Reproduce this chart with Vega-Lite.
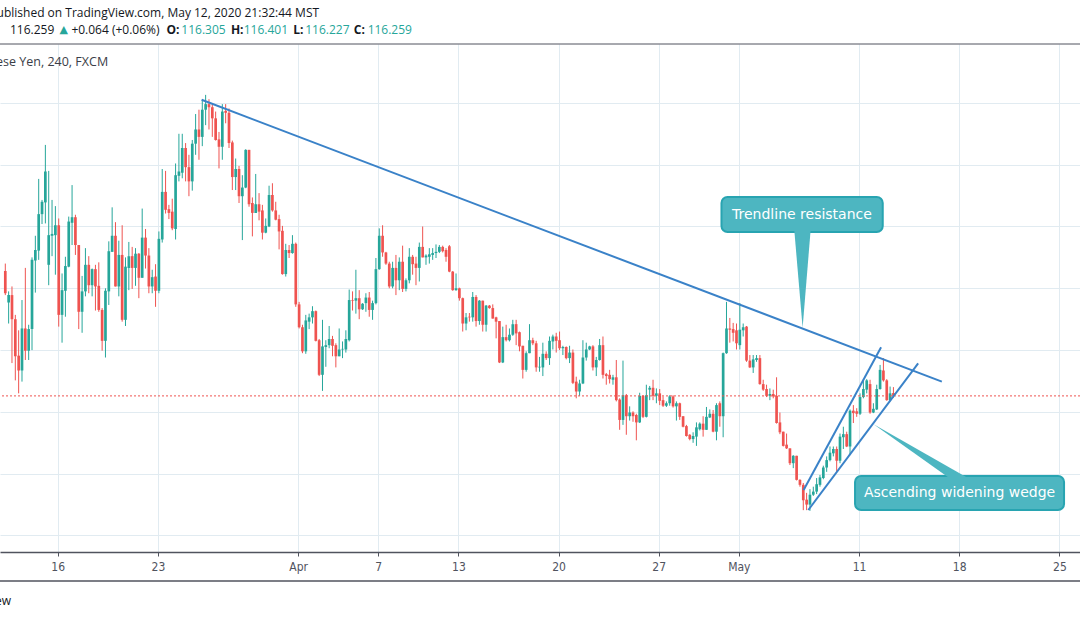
{
"$schema": "https://vega.github.io/schema/vega-lite/v6.json",
"width": 1080, "height": 508,
"autosize": {"type": "none"},
"padding": {"left": 0, "top": 44, "right": 0, "bottom": 66},
"background": "white",
"config": {"view": {"stroke": null}},
"datasets": {
"ohlc": [
{"i":0,"o":118.28,"h":118.40,"l":117.89,"c":117.92},
{"i":1,"o":117.77,"h":117.95,"l":117.43,"c":117.89},
{"i":2,"o":117.89,"h":118.03,"l":116.79,"c":117.50},
{"i":3,"o":117.50,"h":117.57,"l":116.51,"c":116.90},
{"i":4,"o":116.91,"h":117.32,"l":116.30,"c":116.67},
{"i":5,"o":116.67,"h":117.81,"l":116.49,"c":117.35},
{"i":6,"o":117.35,"h":118.33,"l":116.84,"c":116.99},
{"i":7,"o":116.99,"h":117.41,"l":116.84,"c":117.34},
{"i":8,"o":117.34,"h":118.50,"l":117.00,"c":118.46},
{"i":9,"o":118.45,"h":118.85,"l":117.93,"c":118.62},
{"i":10,"o":118.61,"h":119.77,"l":118.46,"c":119.20},
{"i":11,"o":119.20,"h":119.43,"l":119.04,"c":119.40},
{"i":12,"o":119.39,"h":120.32,"l":119.05,"c":119.89},
{"i":13,"o":118.38,"h":119.90,"l":118.05,"c":118.86},
{"i":14,"o":118.85,"h":119.43,"l":118.52,"c":118.88},
{"i":15,"o":118.86,"h":119.33,"l":118.22,"c":119.02},
{"i":16,"o":119.02,"h":119.13,"l":117.38,"c":117.57},
{"i":17,"o":117.57,"h":118.24,"l":117.12,"c":117.97},
{"i":18,"o":117.96,"h":118.51,"l":117.54,"c":118.36},
{"i":19,"o":118.35,"h":119.16,"l":118.34,"c":119.08},
{"i":20,"o":119.06,"h":119.67,"l":118.70,"c":119.15},
{"i":21,"o":119.15,"h":119.19,"l":118.54,"c":118.70},
{"i":22,"o":118.70,"h":118.70,"l":117.34,"c":117.62},
{"i":23,"o":117.62,"h":118.20,"l":117.28,"c":117.95},
{"i":24,"o":117.95,"h":118.65,"l":117.87,"c":118.38},
{"i":25,"o":118.38,"h":118.52,"l":117.92,"c":118.05},
{"i":26,"o":118.05,"h":118.32,"l":117.87,"c":118.31},
{"i":27,"o":118.31,"h":118.38,"l":117.64,"c":118.03},
{"i":28,"o":118.04,"h":118.42,"l":117.62,"c":117.65},
{"i":29,"o":117.65,"h":117.68,"l":116.99,"c":117.15},
{"i":30,"o":117.15,"h":118.00,"l":116.88,"c":117.96},
{"i":31,"o":117.95,"h":118.76,"l":117.73,"c":118.60},
{"i":32,"o":118.59,"h":119.31,"l":118.59,"c":118.85},
{"i":33,"o":118.85,"h":119.07,"l":118.03,"c":118.03},
{"i":34,"o":118.03,"h":118.77,"l":117.87,"c":118.54},
{"i":35,"o":118.54,"h":119.02,"l":117.46,"c":117.49},
{"i":36,"o":117.49,"h":118.50,"l":117.39,"c":118.35},
{"i":37,"o":118.33,"h":118.75,"l":117.97,"c":118.52},
{"i":38,"o":118.52,"h":118.67,"l":117.99,"c":118.33},
{"i":39,"o":118.33,"h":118.65,"l":118.04,"c":118.56},
{"i":40,"o":118.56,"h":118.57,"l":117.84,"c":118.17},
{"i":41,"o":118.17,"h":119.29,"l":118.17,"c":118.82},
{"i":42,"o":118.82,"h":118.96,"l":118.32,"c":118.53},
{"i":43,"o":118.53,"h":118.65,"l":117.92,"c":118.03},
{"i":44,"o":118.03,"h":118.30,"l":117.92,"c":118.18},
{"i":45,"o":118.19,"h":118.39,"l":117.70,"c":117.96},
{"i":46,"o":117.96,"h":118.92,"l":117.92,"c":118.80},
{"i":47,"o":118.79,"h":119.93,"l":118.74,"c":119.56},
{"i":48,"o":119.56,"h":119.90,"l":119.21,"c":119.27},
{"i":49,"o":119.28,"h":119.35,"l":119.12,"c":119.22},
{"i":50,"o":119.24,"h":119.45,"l":118.94,"c":118.97},
{"i":51,"o":118.96,"h":120.02,"l":118.79,"c":119.83},
{"i":52,"o":119.82,"h":120.50,"l":119.73,"c":119.89},
{"i":53,"o":119.87,"h":120.50,"l":119.78,"c":120.27},
{"i":54,"o":120.27,"h":120.35,"l":119.73,"c":119.96},
{"i":55,"o":119.96,"h":120.16,"l":119.49,"c":119.73},
{"i":56,"o":119.73,"h":120.40,"l":119.58,"c":120.34},
{"i":57,"o":120.34,"h":120.82,"l":120.16,"c":120.57},
{"i":58,"o":120.57,"h":120.89,"l":120.08,"c":120.45},
{"i":59,"o":120.45,"h":121.05,"l":120.30,"c":120.89},
{"i":60,"o":120.89,"h":121.13,"l":120.64,"c":120.98},
{"i":61,"o":120.98,"h":121.06,"l":120.57,"c":120.93},
{"i":62,"o":120.93,"h":120.98,"l":120.45,"c":120.75},
{"i":63,"o":120.75,"h":120.86,"l":120.39,"c":120.40},
{"i":64,"o":120.41,"h":120.53,"l":119.94,"c":120.29},
{"i":65,"o":120.29,"h":120.98,"l":120.08,"c":120.86},
{"i":66,"o":120.87,"h":120.98,"l":120.67,"c":120.84},
{"i":67,"o":120.84,"h":120.91,"l":120.27,"c":120.35},
{"i":68,"o":120.36,"h":120.39,"l":119.59,"c":119.80},
{"i":69,"o":119.80,"h":120.10,"l":119.59,"c":119.93},
{"i":70,"o":119.93,"h":119.98,"l":119.38,"c":119.49},
{"i":71,"o":119.49,"h":119.83,"l":118.78,"c":119.63},
{"i":72,"o":119.63,"h":120.25,"l":119.62,"c":120.24},
{"i":73,"o":120.24,"h":120.24,"l":119.32,"c":119.36},
{"i":74,"o":119.38,"h":119.47,"l":118.84,"c":119.22},
{"i":75,"o":119.22,"h":119.85,"l":119.22,"c":119.36},
{"i":76,"o":119.36,"h":119.54,"l":119.10,"c":119.24},
{"i":77,"o":119.26,"h":119.35,"l":118.79,"c":118.90},
{"i":78,"o":118.90,"h":119.13,"l":118.89,"c":119.01},
{"i":79,"o":119.00,"h":119.66,"l":118.99,"c":119.51},
{"i":80,"o":119.51,"h":119.70,"l":119.24,"c":119.26},
{"i":81,"o":119.26,"h":119.40,"l":119.10,"c":119.11},
{"i":82,"o":119.12,"h":119.19,"l":118.63,"c":118.92},
{"i":83,"o":118.93,"h":119.01,"l":118.22,"c":118.23},
{"i":84,"o":118.23,"h":118.72,"l":118.19,"c":118.62},
{"i":85,"o":118.62,"h":118.70,"l":118.49,"c":118.57},
{"i":86,"o":118.57,"h":118.86,"l":118.56,"c":118.72},
{"i":87,"o":118.72,"h":118.74,"l":117.70,"c":117.74},
{"i":88,"o":117.74,"h":117.78,"l":117.35,"c":117.37},
{"i":89,"o":117.37,"h":117.41,"l":116.95,"c":116.98},
{"i":90,"o":116.98,"h":117.57,"l":116.94,"c":117.48},
{"i":91,"o":117.46,"h":117.59,"l":117.34,"c":117.53},
{"i":92,"o":117.53,"h":117.71,"l":117.43,"c":117.63},
{"i":93,"o":117.63,"h":117.64,"l":117.14,"c":117.15},
{"i":94,"o":117.16,"h":117.18,"l":116.58,"c":116.60},
{"i":95,"o":116.60,"h":117.49,"l":116.34,"c":117.06},
{"i":96,"o":117.05,"h":117.16,"l":116.73,"c":117.08},
{"i":97,"o":117.08,"h":117.39,"l":117.03,"c":117.18},
{"i":98,"o":117.18,"h":117.23,"l":116.90,"c":117.07},
{"i":99,"o":117.08,"h":117.11,"l":116.72,"c":116.90},
{"i":100,"o":116.90,"h":117.35,"l":116.90,"c":117.01},
{"i":101,"o":117.01,"h":117.14,"l":116.87,"c":117.02},
{"i":102,"o":117.01,"h":117.32,"l":116.96,"c":117.18},
{"i":103,"o":117.16,"h":117.98,"l":117.14,"c":117.81},
{"i":104,"o":117.81,"h":117.95,"l":117.64,"c":117.80},
{"i":105,"o":117.80,"h":118.30,"l":117.59,"c":117.84},
{"i":106,"o":117.84,"h":117.97,"l":117.50,"c":117.66},
{"i":107,"o":117.66,"h":117.76,"l":117.65,"c":117.75},
{"i":108,"o":117.76,"h":117.92,"l":117.62,"c":117.85},
{"i":109,"o":117.85,"h":117.94,"l":117.54,"c":117.65},
{"i":110,"o":117.65,"h":117.80,"l":117.49,"c":117.76},
{"i":111,"o":117.76,"h":118.49,"l":117.74,"c":118.31},
{"i":112,"o":118.31,"h":118.97,"l":118.30,"c":118.85},
{"i":113,"o":118.85,"h":119.02,"l":118.51,"c":118.58},
{"i":114,"o":118.58,"h":118.59,"l":118.38,"c":118.40},
{"i":115,"o":118.40,"h":118.43,"l":118.00,"c":118.03},
{"i":116,"o":118.03,"h":118.43,"l":118.00,"c":118.33},
{"i":117,"o":118.33,"h":118.54,"l":117.89,"c":118.13},
{"i":118,"o":118.13,"h":118.50,"l":117.97,"c":118.43},
{"i":119,"o":118.43,"h":118.69,"l":117.94,"c":117.99},
{"i":120,"o":117.99,"h":118.16,"l":117.95,"c":118.13},
{"i":121,"o":118.13,"h":118.65,"l":118.08,"c":118.51},
{"i":122,"o":118.51,"h":118.54,"l":118.22,"c":118.39},
{"i":123,"o":118.40,"h":118.51,"l":118.05,"c":118.33},
{"i":124,"o":118.33,"h":118.74,"l":118.11,"c":118.67},
{"i":125,"o":118.67,"h":119.00,"l":118.50,"c":118.50},
{"i":126,"o":118.50,"h":118.55,"l":118.38,"c":118.53},
{"i":127,"o":118.51,"h":118.65,"l":118.40,"c":118.55},
{"i":128,"o":118.54,"h":118.65,"l":118.46,"c":118.57},
{"i":129,"o":118.57,"h":118.71,"l":118.49,"c":118.59},
{"i":130,"o":118.59,"h":118.70,"l":118.57,"c":118.67},
{"i":131,"o":118.67,"h":118.69,"l":118.58,"c":118.60},
{"i":132,"o":118.62,"h":118.65,"l":118.43,"c":118.51},
{"i":133,"o":118.68,"h":118.70,"l":118.26,"c":118.27},
{"i":134,"o":118.27,"h":118.28,"l":117.96,"c":117.97},
{"i":135,"o":117.97,"h":118.24,"l":117.96,"c":118.00},
{"i":136,"o":118.00,"h":118.01,"l":117.80,"c":117.84},
{"i":137,"o":117.84,"h":117.85,"l":117.30,"c":117.43},
{"i":138,"o":117.43,"h":117.60,"l":117.32,"c":117.53},
{"i":139,"o":117.54,"h":117.60,"l":117.46,"c":117.53},
{"i":140,"o":117.53,"h":117.94,"l":117.46,"c":117.86},
{"i":141,"o":117.86,"h":117.89,"l":117.38,"c":117.47},
{"i":142,"o":117.47,"h":117.81,"l":117.41,"c":117.80},
{"i":143,"o":117.80,"h":117.80,"l":117.30,"c":117.41},
{"i":144,"o":117.41,"h":117.73,"l":117.30,"c":117.72},
{"i":145,"o":117.72,"h":117.73,"l":117.67,"c":117.68},
{"i":146,"o":117.68,"h":117.74,"l":117.51,"c":117.51},
{"i":147,"o":117.53,"h":117.54,"l":117.19,"c":117.46},
{"i":148,"o":117.47,"h":117.47,"l":116.79,"c":116.80},
{"i":149,"o":116.80,"h":117.38,"l":116.79,"c":117.21},
{"i":150,"o":117.21,"h":117.41,"l":117.14,"c":117.16},
{"i":151,"o":117.16,"h":117.35,"l":117.14,"c":117.25},
{"i":152,"o":117.25,"h":117.49,"l":117.23,"c":117.42},
{"i":153,"o":117.42,"h":117.49,"l":117.08,"c":117.27},
{"i":154,"o":117.29,"h":117.30,"l":116.98,"c":117.06},
{"i":155,"o":117.07,"h":117.07,"l":116.54,"c":116.68},
{"i":156,"o":116.68,"h":116.98,"l":116.65,"c":116.95},
{"i":157,"o":116.95,"h":117.42,"l":116.95,"c":117.16},
{"i":158,"o":117.16,"h":117.20,"l":117.08,"c":117.11},
{"i":159,"o":117.11,"h":117.15,"l":116.65,"c":116.72},
{"i":160,"o":116.72,"h":116.89,"l":116.65,"c":116.73},
{"i":161,"o":116.72,"h":117.12,"l":116.58,"c":116.94},
{"i":162,"o":116.94,"h":116.98,"l":116.84,"c":116.87},
{"i":163,"o":116.87,"h":117.22,"l":116.76,"c":117.15},
{"i":164,"o":117.14,"h":117.25,"l":117.01,"c":117.22},
{"i":165,"o":117.22,"h":117.28,"l":116.96,"c":117.15},
{"i":166,"o":117.16,"h":117.30,"l":117.00,"c":117.03},
{"i":167,"o":117.03,"h":117.07,"l":116.92,"c":117.05},
{"i":168,"o":117.05,"h":117.06,"l":116.85,"c":116.87},
{"i":169,"o":116.87,"h":117.07,"l":116.79,"c":116.96},
{"i":170,"o":116.96,"h":117.01,"l":116.45,"c":116.47},
{"i":171,"o":116.49,"h":116.57,"l":116.22,"c":116.33},
{"i":172,"o":116.33,"h":116.52,"l":116.26,"c":116.46},
{"i":173,"o":116.46,"h":117.16,"l":116.45,"c":116.88},
{"i":174,"o":116.88,"h":117.12,"l":116.83,"c":117.01},
{"i":175,"o":117.01,"h":117.07,"l":117.00,"c":117.06},
{"i":176,"o":117.06,"h":117.08,"l":116.67,"c":116.72},
{"i":177,"o":116.72,"h":116.89,"l":116.58,"c":116.84},
{"i":178,"o":116.84,"h":117.18,"l":116.83,"c":117.08},
{"i":179,"o":117.08,"h":117.22,"l":116.54,"c":116.60},
{"i":180,"o":116.61,"h":116.63,"l":116.44,"c":116.58},
{"i":181,"o":116.60,"h":116.68,"l":116.46,"c":116.53},
{"i":182,"o":116.52,"h":116.60,"l":116.44,"c":116.56},
{"i":183,"o":116.56,"h":116.84,"l":116.17,"c":116.19},
{"i":184,"o":116.20,"h":116.22,"l":115.71,"c":115.87},
{"i":185,"o":115.87,"h":116.83,"l":115.79,"c":116.27},
{"i":186,"o":116.27,"h":116.29,"l":115.63,"c":115.93},
{"i":187,"o":115.93,"h":116.09,"l":115.86,"c":115.99},
{"i":188,"o":115.99,"h":116.01,"l":115.84,"c":115.93},
{"i":189,"o":115.95,"h":115.97,"l":115.54,"c":115.83},
{"i":190,"o":115.83,"h":116.31,"l":115.82,"c":116.26},
{"i":191,"o":116.26,"h":116.27,"l":115.90,"c":115.92},
{"i":192,"o":115.92,"h":116.44,"l":115.91,"c":116.27},
{"i":193,"o":116.36,"h":116.42,"l":116.19,"c":116.39},
{"i":194,"o":116.39,"h":116.52,"l":116.19,"c":116.26},
{"i":195,"o":116.26,"h":116.38,"l":116.14,"c":116.30},
{"i":196,"o":116.30,"h":116.37,"l":116.11,"c":116.18},
{"i":197,"o":116.19,"h":116.25,"l":116.08,"c":116.10},
{"i":198,"o":116.10,"h":116.17,"l":116.08,"c":116.14},
{"i":199,"o":116.14,"h":116.27,"l":116.10,"c":116.25},
{"i":200,"o":116.25,"h":116.27,"l":116.07,"c":116.09},
{"i":201,"o":116.09,"h":116.17,"l":115.86,"c":116.14},
{"i":202,"o":116.14,"h":116.15,"l":115.87,"c":115.92},
{"i":203,"o":115.93,"h":115.93,"l":115.75,"c":115.76},
{"i":204,"o":115.77,"h":115.79,"l":115.60,"c":115.61},
{"i":205,"o":115.63,"h":115.64,"l":115.54,"c":115.56},
{"i":206,"o":115.56,"h":115.67,"l":115.50,"c":115.61},
{"i":207,"o":115.60,"h":115.83,"l":115.45,"c":115.75},
{"i":208,"o":115.72,"h":115.83,"l":115.70,"c":115.81},
{"i":209,"o":115.81,"h":115.93,"l":115.60,"c":115.71},
{"i":210,"o":115.71,"h":116.08,"l":115.71,"c":115.92},
{"i":211,"o":115.91,"h":116.04,"l":115.90,"c":115.97},
{"i":212,"o":115.97,"h":116.03,"l":115.67,"c":115.68},
{"i":213,"o":115.68,"h":116.14,"l":115.54,"c":116.11},
{"i":214,"o":116.14,"h":116.17,"l":115.76,"c":115.93},
{"i":215,"o":115.93,"h":116.96,"l":115.59,"c":116.95},
{"i":216,"o":116.95,"h":117.78,"l":116.94,"c":117.35},
{"i":217,"o":117.35,"h":117.52,"l":117.12,"c":117.33},
{"i":218,"o":117.34,"h":117.44,"l":117.14,"c":117.28},
{"i":219,"o":117.32,"h":117.43,"l":117.01,"c":117.11},
{"i":220,"o":117.08,"h":117.76,"l":117.01,"c":117.33},
{"i":221,"o":117.32,"h":117.43,"l":117.22,"c":117.37},
{"i":222,"o":117.38,"h":117.39,"l":116.81,"c":116.83},
{"i":223,"o":116.83,"h":116.92,"l":116.71,"c":116.72},
{"i":224,"o":116.72,"h":116.92,"l":116.63,"c":116.85},
{"i":225,"o":116.84,"h":116.92,"l":116.81,"c":116.87},
{"i":226,"o":116.87,"h":116.92,"l":116.44,"c":116.45},
{"i":227,"o":116.45,"h":116.52,"l":116.34,"c":116.36},
{"i":228,"o":116.37,"h":116.44,"l":116.24,"c":116.26},
{"i":229,"o":116.26,"h":116.38,"l":116.19,"c":116.29},
{"i":230,"o":116.29,"h":116.36,"l":116.22,"c":116.25},
{"i":231,"o":116.26,"h":116.56,"l":115.81,"c":115.82},
{"i":232,"o":115.83,"h":115.99,"l":115.64,"c":115.67},
{"i":233,"o":115.68,"h":115.68,"l":115.44,"c":115.45},
{"i":234,"o":115.47,"h":115.65,"l":115.40,"c":115.41},
{"i":235,"o":115.41,"h":115.41,"l":115.14,"c":115.17},
{"i":236,"o":115.17,"h":115.30,"l":115.09,"c":115.29},
{"i":237,"o":115.29,"h":115.29,"l":114.89,"c":114.90},
{"i":238,"o":114.90,"h":114.91,"l":114.79,"c":114.82},
{"i":239,"o":114.82,"h":114.85,"l":114.41,"c":114.57},
{"i":240,"o":114.58,"h":114.69,"l":114.41,"c":114.50},
{"i":241,"o":114.50,"h":114.75,"l":114.40,"c":114.66},
{"i":242,"o":114.66,"h":114.79,"l":114.64,"c":114.71},
{"i":243,"o":114.71,"h":114.93,"l":114.67,"c":114.83},
{"i":244,"o":114.82,"h":114.98,"l":114.79,"c":114.94},
{"i":245,"o":114.93,"h":115.13,"l":114.91,"c":115.10},
{"i":246,"o":115.10,"h":115.28,"l":115.03,"c":115.22},
{"i":247,"o":115.22,"h":115.44,"l":115.20,"c":115.34},
{"i":248,"o":115.33,"h":115.44,"l":115.28,"c":115.40},
{"i":249,"o":115.40,"h":115.44,"l":115.03,"c":115.21},
{"i":250,"o":115.21,"h":115.65,"l":115.17,"c":115.60},
{"i":251,"o":115.59,"h":115.76,"l":115.40,"c":115.64},
{"i":252,"o":115.64,"h":115.68,"l":115.43,"c":115.44},
{"i":253,"o":115.44,"h":116.04,"l":115.30,"c":116.02},
{"i":254,"o":116.02,"h":116.11,"l":115.82,"c":115.98},
{"i":255,"o":116.01,"h":116.06,"l":115.92,"c":115.97},
{"i":256,"o":115.97,"h":116.30,"l":115.95,"c":116.24},
{"i":257,"o":116.24,"h":116.52,"l":116.22,"c":116.37},
{"i":258,"o":116.36,"h":116.53,"l":116.30,"c":116.51},
{"i":259,"o":116.45,"h":116.52,"l":115.97,"c":115.99},
{"i":260,"o":115.99,"h":116.14,"l":115.98,"c":116.05},
{"i":261,"o":116.04,"h":116.44,"l":116.03,"c":116.37},
{"i":262,"o":116.37,"h":116.76,"l":116.36,"c":116.68},
{"i":263,"o":116.67,"h":116.87,"l":116.49,"c":116.51},
{"i":264,"o":116.51,"h":116.53,"l":116.18,"c":116.19},
{"i":265,"o":116.19,"h":116.41,"l":116.17,"c":116.30},
{"i":266,"o":116.305,"h":116.401,"l":116.227,"c":116.259}
],
"lines": [
{"g":"res","x":58.8,"y":121.05},{"g":"res","x":280.5,"y":116.49},
{"g":"up","x":239.1,"y":114.736},{"g":"up","x":262.3,"y":117.045},
{"g":"lo","x":240.5,"y":114.413},{"g":"lo","x":273.4,"y":116.786}
],
"ptr": [
{"g":"a","ya":118.943,"xa":236.3,"xb":241.2},{"g":"a","ya":117.362,"xa":238.8,"xb":238.8},
{"g":"b","ya":115.799,"xa":260.06,"xb":260.06},{"g":"b","ya":114.931,"xa":282.7,"xb":288.3}
]
},
"layer": [
{"data": {"name": "ohlc"},
 "mark": {"type": "rule", "strokeWidth": 1},
 "encoding": {
  "x": {"field": "i", "type": "quantitative",
        "scale": {"domain": [-0.09, 320.38], "nice": false, "zero": false},
        "axis": {"title": null, "values": [15.7,45.7,87.7,111.7,135.7,165.7,195.7,219.7,255.7,285.7,315.7],
                 "labelExpr": "datum.value < 20 ? '16' : datum.value < 50 ? '23' : datum.value < 90 ? 'Apr' : datum.value < 115 ? '7' : datum.value < 140 ? '13' : datum.value < 170 ? '20' : datum.value < 200 ? '27' : datum.value < 225 ? 'May' : datum.value < 260 ? '11' : datum.value < 290 ? '18' : '25'",
                 "grid": true, "gridColor": "#e1ebf1", "gridWidth": 1,
                 "domainColor": "#50535e", "domainWidth": 1.5,
                 "tickColor": "#50535e", "tickSize": 4, "tickWidth": 1,
                 "labelColor": "#50535e", "labelFont": "DejaVu Sans Condensed, Liberation Sans Narrow, Roboto", "labelFontSize": 12,
                 "labelPadding": 5, "labelFlush": false, "labelOverlap": false}},
  "y": {"field": "l", "type": "quantitative",
        "scale": {"domain": [113.733, 121.953], "nice": false, "zero": false},
        "axis": {"title": null, "orient": "right", "labels": false, "ticks": false, "domain": false,
                 "grid": true, "gridColor": "#e1ebf1", "gridWidth": 1,
                 "values": [114,114.5,115,115.5,116,116.5,117,117.5,118,118.5,119,119.5,120,120.5,121,121.5]}},
  "y2": {"field": "h"},
  "color": {"condition": {"test": "datum.c >= datum.o", "value": "#26a69a"}, "value": "#ef5350"}
 }},
{"data": {"name": "ohlc"},
 "mark": {"type": "bar", "size": 2.7},
 "encoding": {
  "x": {"field": "i", "type": "quantitative"},
  "y": {"field": "o", "type": "quantitative"},
  "y2": {"field": "c"},
  "color": {"condition": {"test": "datum.c >= datum.o", "value": "#26a69a"}, "value": "#ef5350"}
 }},
{"data": {"values": [{}]},
 "mark": {"type": "rule", "color": "#ef5350", "strokeDash": [2, 2], "strokeWidth": 1},
 "encoding": {"y": {"datum": 116.259, "type": "quantitative"}}},
{"data": {"name": "lines"},
 "mark": {"type": "line", "color": "#3a82c8", "strokeWidth": 2},
 "encoding": {
  "x": {"field": "x", "type": "quantitative"},
  "y": {"field": "y", "type": "quantitative"},
  "detail": {"field": "g"}
 }},
{"data": {"values": [{}]},
 "mark": {"type": "rect", "fill": "#4db6c1", "stroke": "#28a4b1", "strokeWidth": 2, "cornerRadius": 6},
 "encoding": {"x": {"datum": 214.5, "type": "quantitative"}, "x2": {"datum": 262.8},
              "y": {"datum": 119.477, "type": "quantitative"}, "y2": {"datum": 118.911}}},
{"data": {"values": [{}]},
 "mark": {"type": "rect", "fill": "#4db6c1", "stroke": "#28a4b1", "strokeWidth": 2, "cornerRadius": 6},
 "encoding": {"x": {"datum": 254.5, "type": "quantitative"}, "x2": {"datum": 317.1},
              "y": {"datum": 114.963, "type": "quantitative"}, "y2": {"datum": 114.413}}},
{"data": {"name": "ptr"},
 "mark": {"type": "area", "orient": "horizontal", "color": "#4db6c1", "opacity": 1},
 "encoding": {
  "y": {"field": "ya", "type": "quantitative"},
  "x": {"field": "xa", "type": "quantitative"},
  "x2": {"field": "xb"},
  "detail": {"field": "g"}
 }},
{"data": {"values": [{}]},
 "mark": {"type": "text", "text": "Trendline resistance", "color": "white", "font": "DejaVu Sans", "fontSize": 14, "align": "center", "baseline": "middle"},
 "encoding": {"x": {"datum": 238.6, "type": "quantitative"}, "y": {"datum": 119.194, "type": "quantitative"}}},
{"data": {"values": [{}]},
 "mark": {"type": "text", "text": "Ascending widening wedge", "color": "white", "font": "DejaVu Sans", "fontSize": 14, "align": "center", "baseline": "middle"},
 "encoding": {"x": {"datum": 285.8, "type": "quantitative"}, "y": {"datum": 114.688, "type": "quantitative"}}},
{"data": {"values": [{}]},
 "mark": {"type": "rule", "color": "#50535e", "strokeWidth": 1},
 "encoding": {"y": {"datum": 121.953, "type": "quantitative"}}},
{"data": {"values": [{}]},
 "mark": {"type": "rule", "color": "#50535e", "strokeWidth": 1.5},
 "encoding": {"y": {"datum": 113.264, "type": "quantitative"}}},
{"data": {"values": [{}]},
 "mark": {"type": "text", "text": "Published on TradingView.com, May 12, 2020 21:32:44 MST", "color": "#131722", "font": "Open Sans", "fontSize": 12, "align": "right", "baseline": "middle"},
 "encoding": {"x": {"datum": 93.98, "type": "quantitative"}, "y": {"datum": 122.455, "type": "quantitative"}}},
{"data": {"values": [{}]},
 "mark": {"type": "text", "text": "Euro / Japanese Yen, 240, FXCM", "color": "#3b3e48", "font": "Open Sans", "fontSize": 12.5, "align": "right", "baseline": "middle"},
 "encoding": {"x": {"datum": 30.8, "type": "quantitative"}, "y": {"datum": 121.66, "type": "quantitative"}}},
{"data": {"values": [{}]},
 "mark": {"type": "text", "text": "TradingView", "color": "#131722", "font": "Open Sans", "fontSize": 12, "align": "right", "baseline": "middle"},
 "encoding": {"x": {"datum": 1.7, "type": "quantitative"}, "y": {"datum": 112.94, "type": "quantitative"}}},
{"data": {"values": [{}]},
 "mark": {"type": "text", "text": "116.259", "color": "#131722", "font": "Open Sans", "fontSize": 12, "align": "left", "baseline": "middle"},
 "encoding": {"x": {"datum": 1.39, "type": "quantitative"}, "y": {"datum": 122.18, "type": "quantitative"}}},
{"data": {"values": [{}]},
 "mark": {"type": "text", "text": "▲", "color": "#26a69a", "font": "DejaVu Sans", "fontSize": 11, "align": "left", "baseline": "middle"},
 "encoding": {"x": {"datum": 16.23, "type": "quantitative"}, "y": {"datum": 122.18, "type": "quantitative"}}},
{"data": {"values": [{}]},
 "mark": {"type": "text", "text": "+0.064 (+0.06%)", "color": "#131722", "font": "Open Sans", "fontSize": 12, "align": "left", "baseline": "middle"},
 "encoding": {"x": {"datum": 19.79, "type": "quantitative"}, "y": {"datum": 122.18, "type": "quantitative"}}},
{"data": {"values": [{}]},
 "mark": {"type": "text", "text": "O:", "color": "#131722", "font": "Open Sans", "fontSize": 12, "fontWeight": "bold", "align": "left", "baseline": "middle"},
 "encoding": {"x": {"datum": 48.28, "type": "quantitative"}, "y": {"datum": 122.18, "type": "quantitative"}}},
{"data": {"values": [{}]},
 "mark": {"type": "text", "text": "116.305", "color": "#26a69a", "font": "Open Sans", "fontSize": 12, "align": "left", "baseline": "middle"},
 "encoding": {"x": {"datum": 52.73, "type": "quantitative"}, "y": {"datum": 122.18, "type": "quantitative"}}},
{"data": {"values": [{}]},
 "mark": {"type": "text", "text": "H:", "color": "#131722", "font": "Open Sans", "fontSize": 12, "fontWeight": "bold", "align": "left", "baseline": "middle"},
 "encoding": {"x": {"datum": 67.57, "type": "quantitative"}, "y": {"datum": 122.18, "type": "quantitative"}}},
{"data": {"values": [{}]},
 "mark": {"type": "text", "text": "116.401", "color": "#26a69a", "font": "Open Sans", "fontSize": 12, "align": "left", "baseline": "middle"},
 "encoding": {"x": {"datum": 71.42, "type": "quantitative"}, "y": {"datum": 122.18, "type": "quantitative"}}},
{"data": {"values": [{}]},
 "mark": {"type": "text", "text": "L:", "color": "#131722", "font": "Open Sans", "fontSize": 12, "fontWeight": "bold", "align": "left", "baseline": "middle"},
 "encoding": {"x": {"datum": 86.26, "type": "quantitative"}, "y": {"datum": 122.18, "type": "quantitative"}}},
{"data": {"values": [{}]},
 "mark": {"type": "text", "text": "116.227", "color": "#26a69a", "font": "Open Sans", "fontSize": 12, "align": "left", "baseline": "middle"},
 "encoding": {"x": {"datum": 89.82, "type": "quantitative"}, "y": {"datum": 122.18, "type": "quantitative"}}},
{"data": {"values": [{}]},
 "mark": {"type": "text", "text": "C:", "color": "#131722", "font": "Open Sans", "fontSize": 12, "fontWeight": "bold", "align": "left", "baseline": "middle"},
 "encoding": {"x": {"datum": 104.36, "type": "quantitative"}, "y": {"datum": 122.18, "type": "quantitative"}}},
{"data": {"values": [{}]},
 "mark": {"type": "text", "text": "116.259", "color": "#26a69a", "font": "Open Sans", "fontSize": 12, "align": "left", "baseline": "middle"},
 "encoding": {"x": {"datum": 108.52, "type": "quantitative"}, "y": {"datum": 122.18, "type": "quantitative"}}}
]
}
